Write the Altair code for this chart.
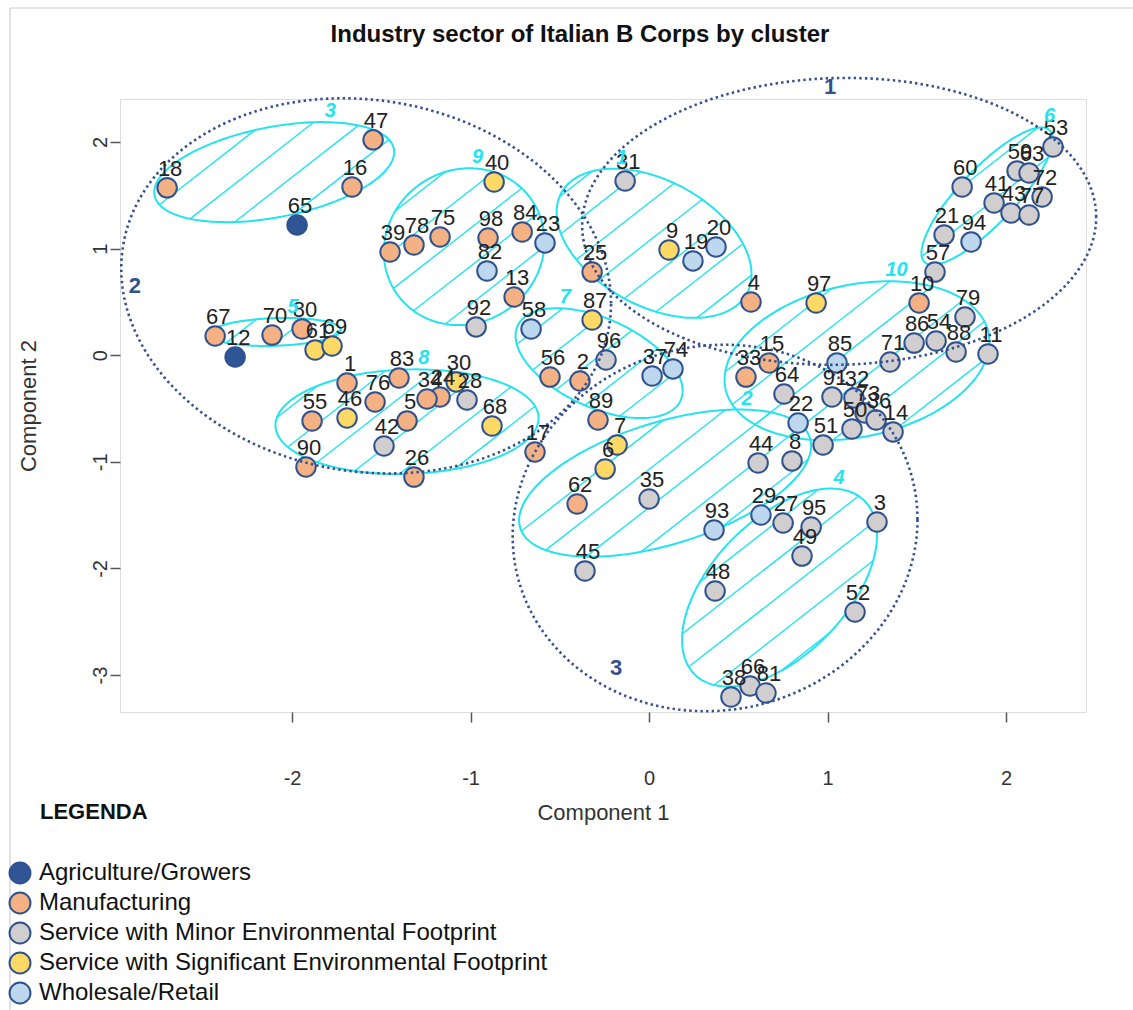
import math
import altair as alt
import pandas as pd

# ---------------- company scores on the first two components ----------------
company_id = [18, 47, 16, 65, 39, 78, 75, 40, 98, 84,
              23, 82, 13, 92, 58, 31, 9, 19, 20, 25,
              4, 87, 96, 56, 2, 37, 74, 33, 15, 97,
              10, 79, 86, 54, 88, 11, 71, 85, 64, 91,
              32, 73, 36, 14, 50, 22, 51, 8, 44, 29,
              27, 95, 49, 3, 52, 48, 93, 35, 45, 62,
              7, 6, 89, 17, 68, 28, 30, 24, 34, 83,
              1, 76, 5, 42, 26, 55, 46, 90, 67, 12,
              70, 80, 61, 69, 60, 21, 94, 57, 53, 59,
              63, 72, 41, 43, 77, 38, 66, 81]

comp1 = [-2.700, -1.546, -1.664, -1.972, -1.451, -1.317, -1.171, -0.868, -0.902, -0.711,
         -0.583, -0.908, -0.756, -0.969, -0.661, -0.134, 0.112, 0.246, 0.375, -0.319,
         0.571, -0.319, -0.241, -0.555, -0.387, 0.017, 0.134, 0.543, 0.672, 0.936,
         1.513, 1.770, 1.485, 1.608, 1.720, 1.899, 1.350, 1.053, 0.756, 1.025,
         1.148, 1.210, 1.272, 1.367, 1.137, 0.835, 0.975, 0.801, 0.611, 0.627,
         0.751, 0.908, 0.857, 1.277, 1.154, 0.370, 0.364, 0.000, -0.359, -0.403,
         -0.179, -0.246, -0.286, -0.639, -0.880, -1.020, -1.081, -1.171, -1.244, -1.401,
         -1.692, -1.535, -1.356, -1.485, -1.317, -1.888, -1.692, -1.922, -2.431, -2.319,
         -2.112, -1.944, -1.871, -1.776, 1.754, 1.653, 1.804, 1.602, 2.263, 2.062,
         2.129, 2.202, 1.933, 2.028, 2.129, 0.459, 0.566, 0.655]

comp2 = [1.570, 2.020, 1.578, 1.221, 0.968, 1.034, 1.109, 1.625, 1.099, 1.156,
         1.053, 0.790, 0.546, 0.265, 0.246, 1.634, 0.987, 0.884, 1.015, 0.780,
         0.499, 0.330, -0.045, -0.205, -0.242, -0.195, -0.129, -0.205, -0.073, 0.490,
         0.490, 0.358, 0.114, 0.133, 0.030, 0.011, -0.064, -0.073, -0.364, -0.392,
         -0.401, -0.542, -0.608, -0.720, -0.692, -0.636, -0.842, -0.992, -1.011, -1.499,
         -1.574, -1.612, -1.884, -1.565, -2.409, -2.212, -1.640, -1.349, -2.024, -1.396,
         -0.842, -1.068, -0.608, -0.908, -0.664, -0.420, -0.251, -0.392, -0.411, -0.214,
         -0.261, -0.439, -0.617, -0.852, -1.143, -0.617, -0.589, -1.049, 0.180, -0.017,
         0.189, 0.246, 0.049, 0.086, 1.578, 1.128, 1.062, 0.780, 1.953, 1.728,
         1.709, 1.484, 1.428, 1.334, 1.315, -3.206, -3.103, -3.169]

# A = agriculture, M = manufacturing, G = minor-footprint service,
# S = significant-footprint service, W = wholesale/retail
sector_code = ["M", "M", "M", "A", "M", "M", "M", "S", "M", "M",
               "W", "W", "M", "G", "W", "G", "S", "W", "W", "M",
               "M", "S", "G", "M", "M", "W", "W", "M", "M", "S",
               "M", "G", "G", "G", "G", "G", "G", "W", "G", "G",
               "G", "G", "G", "G", "G", "W", "G", "G", "G", "W",
               "G", "G", "G", "G", "G", "G", "W", "G", "G", "M",
               "S", "S", "M", "M", "S", "G", "S", "M", "M", "M",
               "M", "M", "M", "G", "M", "M", "S", "M", "M", "A",
               "M", "M", "S", "S", "G", "G", "W", "G", "G", "G",
               "G", "G", "G", "G", "G", "G", "G", "G"]

sector_names = ["Agriculture/Growers", "Manufacturing",
                "Service with Minor Environmental Footprint",
                "Service with Significant Environmental Footprint",
                "Wholesale/Retail"]
sector_keys = ["A", "M", "G", "S", "W"]
sector_fill = ["#2F5597", "#F4B183", "#D0CECE", "#FFD966", "#BDD7EE"]

# ---------------- cluster ellipses: centre, conjugate semi-axes ----------------
# point(t) = (cx + ax*cos t, cy + ay*cos t + by*sin t)
main_name = ["1", "2", "3"]
main_cx = [1.065, -1.585, 0.370]
main_cy = [1.255, 0.650, -1.621]
main_ax = [1.440, 1.372, 1.134]
main_ay = [0.040, -0.164, 0.080]
main_by = [1.345, 1.752, 1.717]
main_label_x = [1.014, -2.880, -0.185]
main_label_y = [2.516, 0.649, -2.934]

sub_name = ["3", "9", "1", "6", "10", "5", "8", "7", "2", "4"]
sub_cx = [-2.100, -1.036, 0.028, 1.894, 1.165, -2.095, -1.356, -0.280, 0.090, 0.731]
sub_cy = [1.717, 1.018, 1.050, 1.492, -0.052, 0.218, -0.624, -0.075, -1.200, -2.180]
sub_ax = [0.672, 0.450, 0.546, 0.368, 0.742, 0.370, 0.737, 0.468, 0.818, 0.546]
sub_ay = [0.188, 0.050, -0.290, 0.534, 0.178, 0.020, 0.033, -0.258, 0.350, 0.490]
sub_by = [0.430, 0.734, 0.637, 0.360, 0.724, 0.130, 0.490, 0.446, 0.595, 0.789]

X_DOMAIN = [-2.964, 2.448]
Y_DOMAIN = [-3.347, 2.403]
PLOT_W, PLOT_H = 966, 613
PX_X = PLOT_W / (X_DOMAIN[1] - X_DOMAIN[0])
PX_Y = PLOT_H / (Y_DOMAIN[1] - Y_DOMAIN[0])

NAVY = "#2F528F"
CYAN = "#22E3EE"
FONT = "Liberation Sans"

# ---------------- derived tables ----------------
name_of = dict(zip(sector_keys, sector_names))
points = pd.DataFrame({
    "id": [str(i) for i in company_id],
    "c1": comp1,
    "c2": comp2,
    "sector": [name_of[k] for k in sector_code],
})


def outline(names, cx, cy, ax, ay, by, steps=180):
    rows = []
    for n, x0, y0, a, b, c in zip(names, cx, cy, ax, ay, by):
        for i in range(steps + 1):
            t = 2 * math.pi * i / steps
            rows.append({"cid": n, "t": i,
                         "x": x0 + a * math.cos(t),
                         "y": y0 + b * math.cos(t) + c * math.sin(t)})
    return pd.DataFrame(rows)


def hatch(names, cx, cy, ax, ay, by, angle_deg=38.0, gap=30.0):
    """Parallel shading lines clipped to each ellipse (spacing in screen px)."""
    ang = math.radians(angle_deg)
    nx, ny = -math.sin(ang), math.cos(ang)
    rows = []
    for n, x0, y0, a, b, c in zip(names, cx, cy, ax, ay, by):
        X0, Y0 = x0 * PX_X, y0 * PX_Y
        m00, m01, m10, m11 = a * PX_X, 0.0, b * PX_Y, c * PX_Y
        gx = m00 * nx + m10 * ny
        gy = m01 * nx + m11 * ny
        r = math.hypot(gx, gy)
        c0 = nx * X0 + ny * Y0
        kmin = math.ceil((c0 - r) / gap)
        kmax = math.floor((c0 + r) / gap)
        hx, hy = gx / r, gy / r
        px, py = -hy, hx
        for k in range(kmin, kmax + 1):
            s = (k * gap - c0) / r
            if abs(s) >= 0.999:
                continue
            h = math.sqrt(1 - s * s)
            ends = []
            for sg in (1, -1):
                wx, wy = s * hx + sg * h * px, s * hy + sg * h * py
                ends.append(((X0 + m00 * wx + m01 * wy) / PX_X,
                             (Y0 + m10 * wx + m11 * wy) / PX_Y))
            rows.append({"cid": n, "x": ends[0][0], "y": ends[0][1],
                         "x2": ends[1][0], "y2": ends[1][1]})
    return pd.DataFrame(rows)


def tops(names, cx, cy, ax, ay, by):
    rows = []
    for n, x0, y0, a, b, c in zip(names, cx, cy, ax, ay, by):
        t = math.atan2(c, b)
        rows.append({"cid": n, "x": x0 + a * math.cos(t),
                     "y": y0 + b * math.cos(t) + c * math.sin(t)})
    return pd.DataFrame(rows)


main_df = outline(main_name, main_cx, main_cy, main_ax, main_ay, main_by, steps=240)
sub_df = outline(sub_name, sub_cx, sub_cy, sub_ax, sub_ay, sub_by)
hatch_df = hatch(sub_name, sub_cx, sub_cy, sub_ax, sub_ay, sub_by)
sub_top_df = tops(sub_name, sub_cx, sub_cy, sub_ax, sub_ay, sub_by)
main_lab_df = pd.DataFrame({"cid": main_name, "x": main_label_x, "y": main_label_y})

xs = alt.Scale(domain=X_DOMAIN, nice=False, zero=False)
ys = alt.Scale(domain=Y_DOMAIN, nice=False, zero=False)

PLAIN = "'' + datum.value"

x_axis = alt.Axis(values=[-2, -1, 0, 1, 2], grid=False, domain=False,
                  tickSize=10, tickColor="#555555", tickWidth=1.5,
                  labelExpr=PLAIN,
                  labelFont=FONT, labelFontSize=20, labelColor="#333333",
                  labelPadding=46, title="Component 1", titleFont=FONT,
                  titleFontSize=22, titleFontWeight="normal", titleColor="#333333",
                  titleY=100, titleBaseline="middle")
y_axis = alt.Axis(values=[-3, -2, -1, 0, 1, 2], grid=False, domain=False,
                  tickSize=10, tickColor="#555555", tickWidth=1.5,
                  labelExpr=PLAIN,
                  labelFont=FONT, labelFontSize=20, labelColor="#333333",
                  labelAngle=-90, labelAlign="center", labelBaseline="bottom",
                  labelPadding=0, title="Component 2", titleFont=FONT,
                  titleFontSize=22, titleFontWeight="normal", titleColor="#333333",
                  titleAngle=-90, titleX=-92, titleY=PLOT_H / 2,
                  titleAlign="center", titleBaseline="middle")

shade = alt.Chart(hatch_df).mark_rule(color=CYAN, strokeWidth=1.4).encode(
    x=alt.X("x:Q", scale=xs, axis=x_axis),
    y=alt.Y("y:Q", scale=ys, axis=y_axis),
    x2="x2:Q", y2="y2:Q")

sub_lines = alt.Chart(sub_df).mark_line(color=CYAN, strokeWidth=2).encode(
    x=alt.X("x:Q", scale=xs), y=alt.Y("y:Q", scale=ys),
    detail="cid:N", order="t:Q")

dots = alt.Chart(points).mark_circle(size=380, stroke=NAVY, strokeWidth=2, opacity=1).encode(
    x=alt.X("c1:Q", scale=xs),
    y=alt.Y("c2:Q", scale=ys),
    fill=alt.Fill("sector:N",
                  scale=alt.Scale(domain=sector_names, range=sector_fill),
                  legend=alt.Legend(orient="none", legendX=-112, legendY=762,
                                    direction="vertical", title=None,
                                    symbolType="circle", symbolSize=440,
                                    symbolStrokeColor=NAVY, symbolStrokeWidth=2,
                                    symbolOpacity=1, labelFont=FONT,
                                    labelFontSize=24, labelColor="#111111",
                                    labelOffset=7, labelLimit=800,
                                    rowPadding=0, padding=0)))

main_lines = alt.Chart(main_df).mark_line(
    color="#34508F", strokeWidth=2.6, strokeDash=[2.4, 3.2]).encode(
    x=alt.X("x:Q", scale=xs), y=alt.Y("y:Q", scale=ys),
    detail="cid:N", order="t:Q")

ids = alt.Chart(points).mark_text(font=FONT, fontSize=22, color="#222222",
                                  dx=3, dy=-19, baseline="middle").encode(
    x=alt.X("c1:Q", scale=xs), y=alt.Y("c2:Q", scale=ys), text="id:N")

sub_text = alt.Chart(sub_top_df).mark_text(
    font=FONT, fontSize=20, fontStyle="italic", fontWeight="bold",
    color=CYAN, dx=8, dy=-11, baseline="middle").encode(
    x=alt.X("x:Q", scale=xs), y=alt.Y("y:Q", scale=ys), text="cid:N")

main_text = alt.Chart(main_lab_df).mark_text(
    font=FONT, fontSize=22, fontWeight="bold", color="#34508F",
    baseline="middle").encode(
    x=alt.X("x:Q", scale=xs), y=alt.Y("y:Q", scale=ys), text="cid:N")

legend_head = alt.Chart(pd.DataFrame({"t": ["LEGENDA"]})).mark_text(
    font=FONT, fontSize=22, fontWeight="bold", color="#111111",
    align="left", baseline="middle").encode(
    x=alt.value(-80), y=alt.value(713), text="t:N")

heading = alt.Chart(pd.DataFrame({"t": ["Industry sector of Italian B Corps by cluster"]})).mark_text(
    font=FONT, fontSize=24, fontWeight="bold", color="#111111",
    align="center", baseline="middle").encode(
    x=alt.value(460), y=alt.value(-64), text="t:N")

# thin page frame along the top and left edges
frame_top = alt.Chart(pd.DataFrame({"k": [0]})).mark_rule(
    color="#CFCFCF", strokeWidth=1.2).encode(
    x=alt.value(-110), x2=alt.value(1013), y=alt.value(-91))
frame_left = alt.Chart(pd.DataFrame({"k": [0]})).mark_rule(
    color="#CFCFCF", strokeWidth=1.2).encode(
    x=alt.value(-110), y=alt.value(-91), y2=alt.value(911))

chart = alt.layer(frame_top, frame_left, shade, sub_lines, dots, main_lines, ids,
                  sub_text, main_text, legend_head, heading).properties(
    width=PLOT_W, height=PLOT_H,
    padding={"left": 120, "top": 99, "right": 47, "bottom": 298},
    autosize=alt.AutoSizeParams(type="none"),
).configure_view(stroke="#444444", strokeWidth=1.5).configure(background="white")

chart.save("out.html", embed_options={"renderer": "svg", "actions": False})
